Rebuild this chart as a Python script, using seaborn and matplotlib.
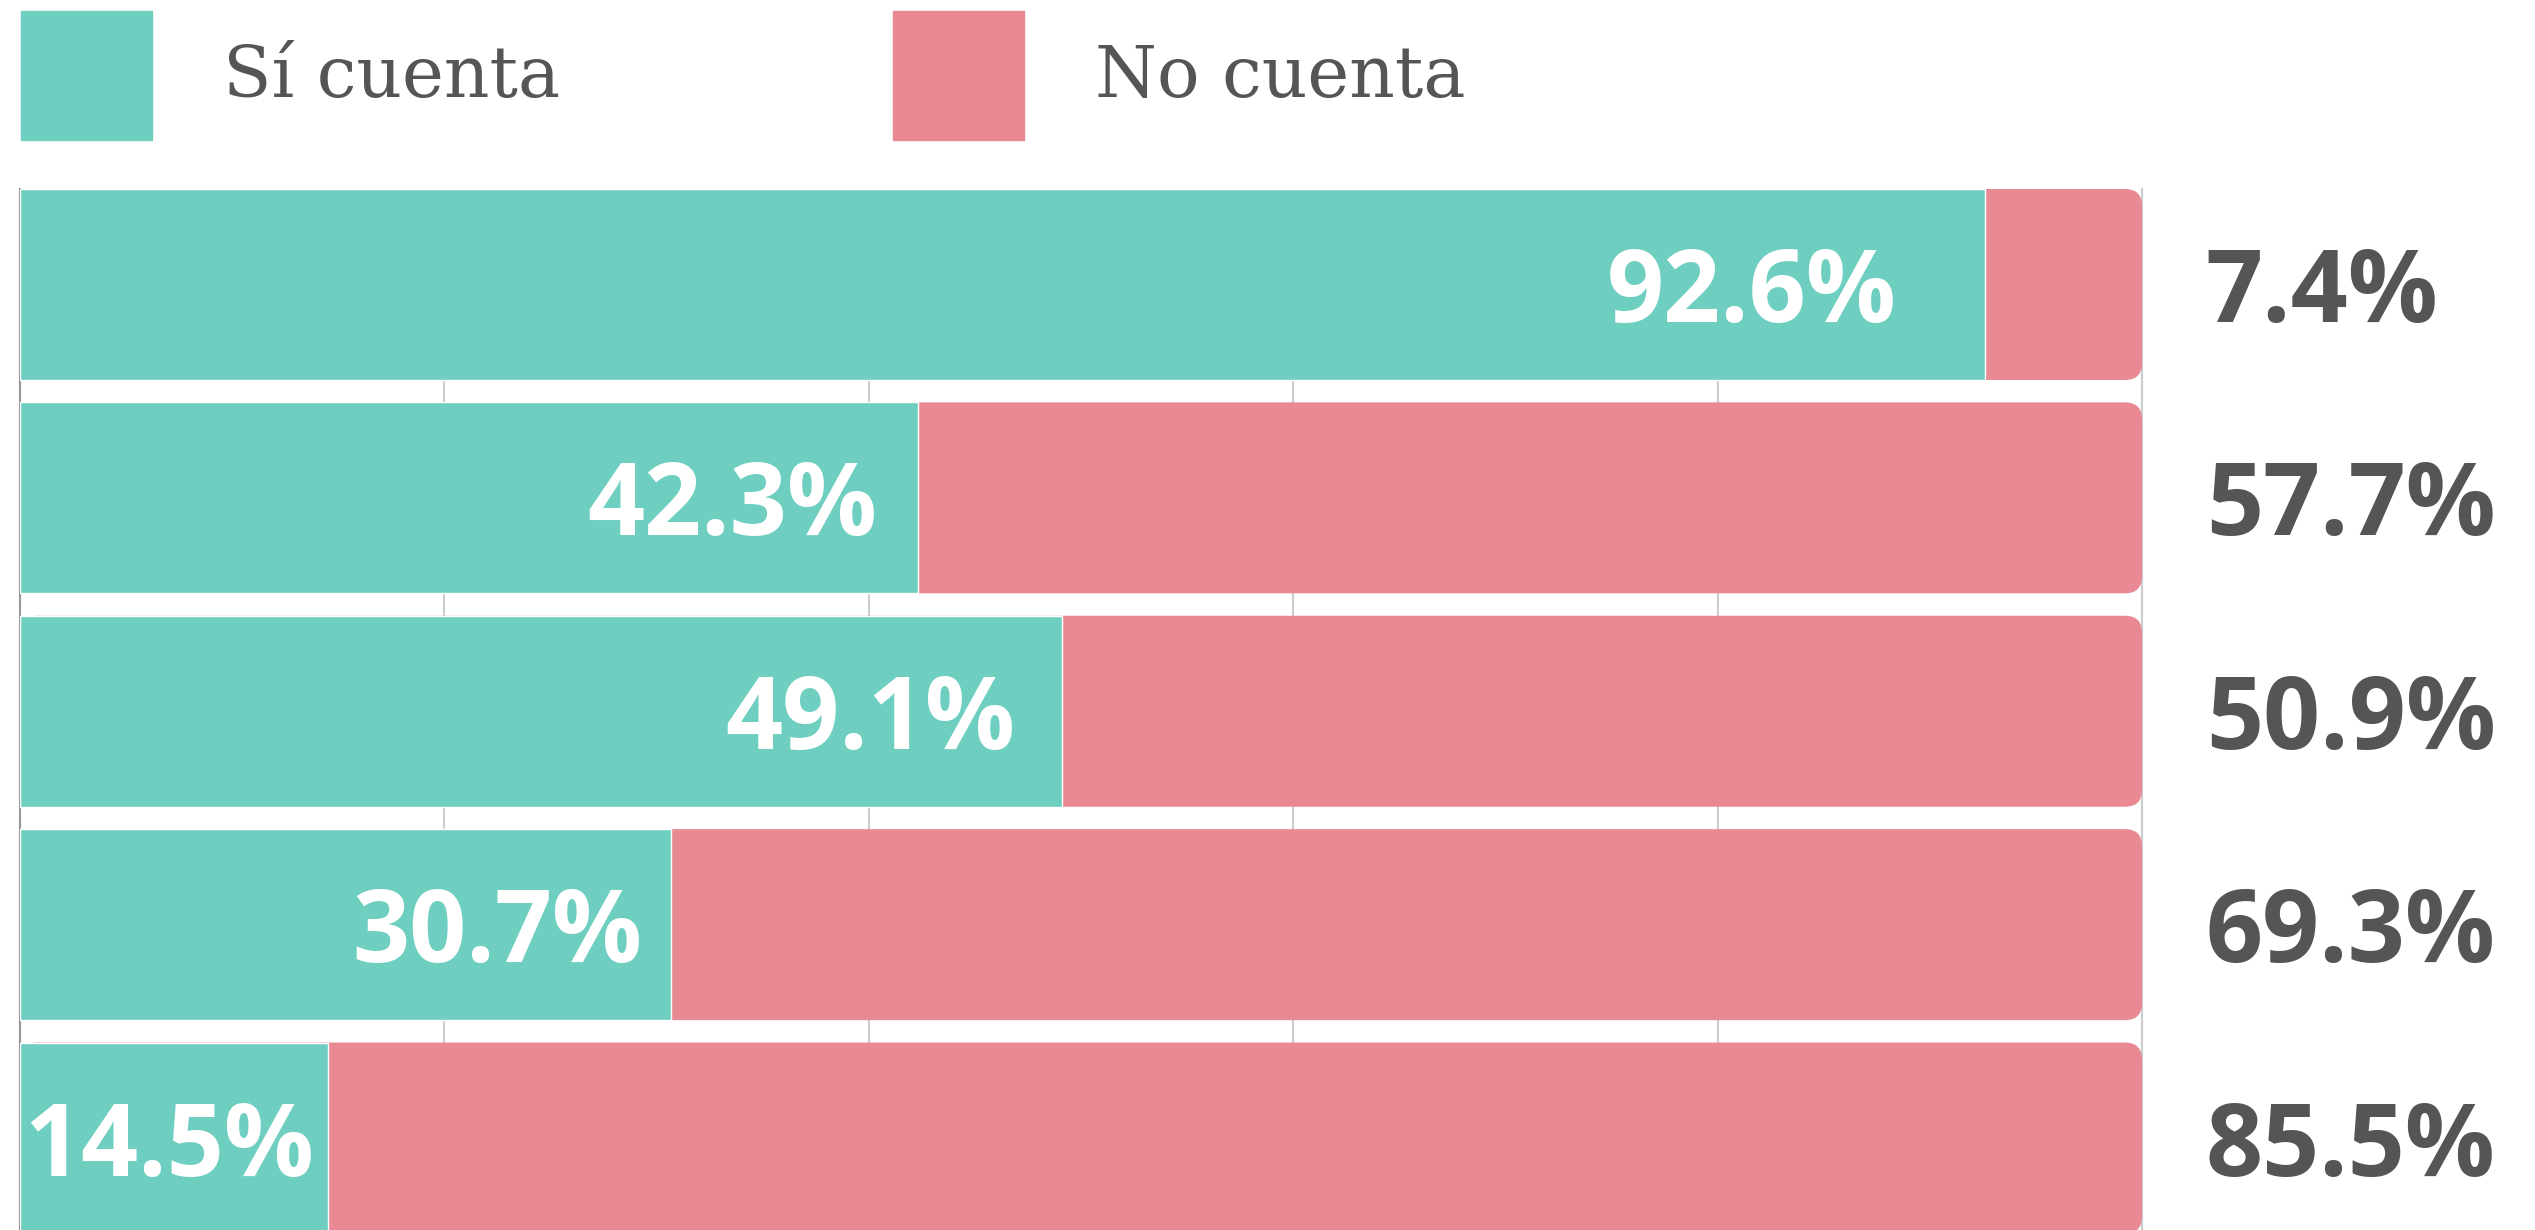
import matplotlib
matplotlib.use("Agg")
import matplotlib.pyplot as plt
from matplotlib.patches import Patch, FancyBboxPatch, BoxStyle
import seaborn as sns
import pandas as pd

# datos
filas = ["1", "2", "3", "4", "5"]
si_cuenta = [92.6, 42.3, 49.1, 30.7, 14.5]
no_cuenta = [7.4, 57.7, 50.9, 69.3, 85.5]
series = ["Sí cuenta", "No cuenta"]

verde = "#6ecfc0"
rosa = "#e88993"
gris = "#555555"

sns.set_style("white")
plt.rcParams["font.family"] = ["Open Sans", "DejaVu Sans"]

df = pd.DataFrame({"fila": filas, "si": si_cuenta, "no": no_cuenta})
df["total"] = df["si"] + df["no"]

W, H = 2535, 1230
fig = plt.figure(figsize=(W / 100, H / 100), dpi=100)
ax = fig.add_axes([20 / W, 0, 2122 / W, 1041 / H])

# barras apiladas: total rosa detras, verde delante
sns.barplot(data=df, x="total", y="fila", color=rosa, width=0.895, saturation=1,
            errorbar=None, orient="h", ax=ax, zorder=2)
n_rosa = len(ax.patches)
sns.barplot(data=df, x="si", y="fila", color=verde, width=0.895, saturation=1,
            errorbar=None, orient="h", ax=ax, zorder=3)

# esquinas redondeadas a la derecha de las barras rosas
for p in list(ax.patches)[:n_rosa]:
    x, y, w, h = p.get_x(), p.get_y(), p.get_width(), p.get_height()
    p.set_visible(False)
    ax.add_patch(FancyBboxPatch((x, y), w, h,
                                boxstyle=BoxStyle.Round(pad=0, rounding_size=0.8),
                                mutation_aspect=0.1, facecolor=rosa,
                                edgecolor="none", zorder=2))

ax.set_xlim(0, 100)
ax.set_ylim(4.431, -0.4475)
ax.set_xticks([0, 20, 40, 60, 80, 100])
ax.grid(axis="x", color="#cccccc", lw=1.5)
ax.set_axisbelow(True)
ax.set_xticklabels([])
ax.set_yticklabels([])
ax.tick_params(length=0)
ax.set_xlabel("")
ax.set_ylabel("")
for s in ["top", "bottom"]:
    ax.spines[s].set_visible(False)
ax.spines["left"].set_color("#999999")
ax.spines["left"].set_linewidth(1.5)
ax.spines["right"].set_color("#cccccc")
ax.spines["right"].set_linewidth(1.5)
ax.spines["right"].set_zorder(1)

for i, (s, n) in enumerate(zip(si_cuenta, no_cuenta)):
    ax.annotate(f"{s}%", (s * 0.955, i), xytext=(0, -8), textcoords="offset points",
                ha="right", va="center", color="white",
                fontsize=72, fontweight="bold", zorder=5)
    ax.annotate(f"{n}%", (103, i), xytext=(0, -8), textcoords="offset points",
                ha="left", va="center", color=gris,
                fontsize=72, fontweight="bold", annotation_clip=False)

handles = [Patch(color=verde), Patch(color=rosa)]
fig.legend(handles, series, loc="upper left", bbox_to_anchor=(21 / W, 1 - 11 / H),
           ncol=2, frameon=False, borderpad=0, borderaxespad=0,
           handlelength=1.85, handleheight=2.43, handletextpad=1.0,
           columnspacing=4.7,
           prop={"family": "DejaVu Serif", "size": 51}, labelcolor=gris)

fig.savefig("out.png", dpi=100)
